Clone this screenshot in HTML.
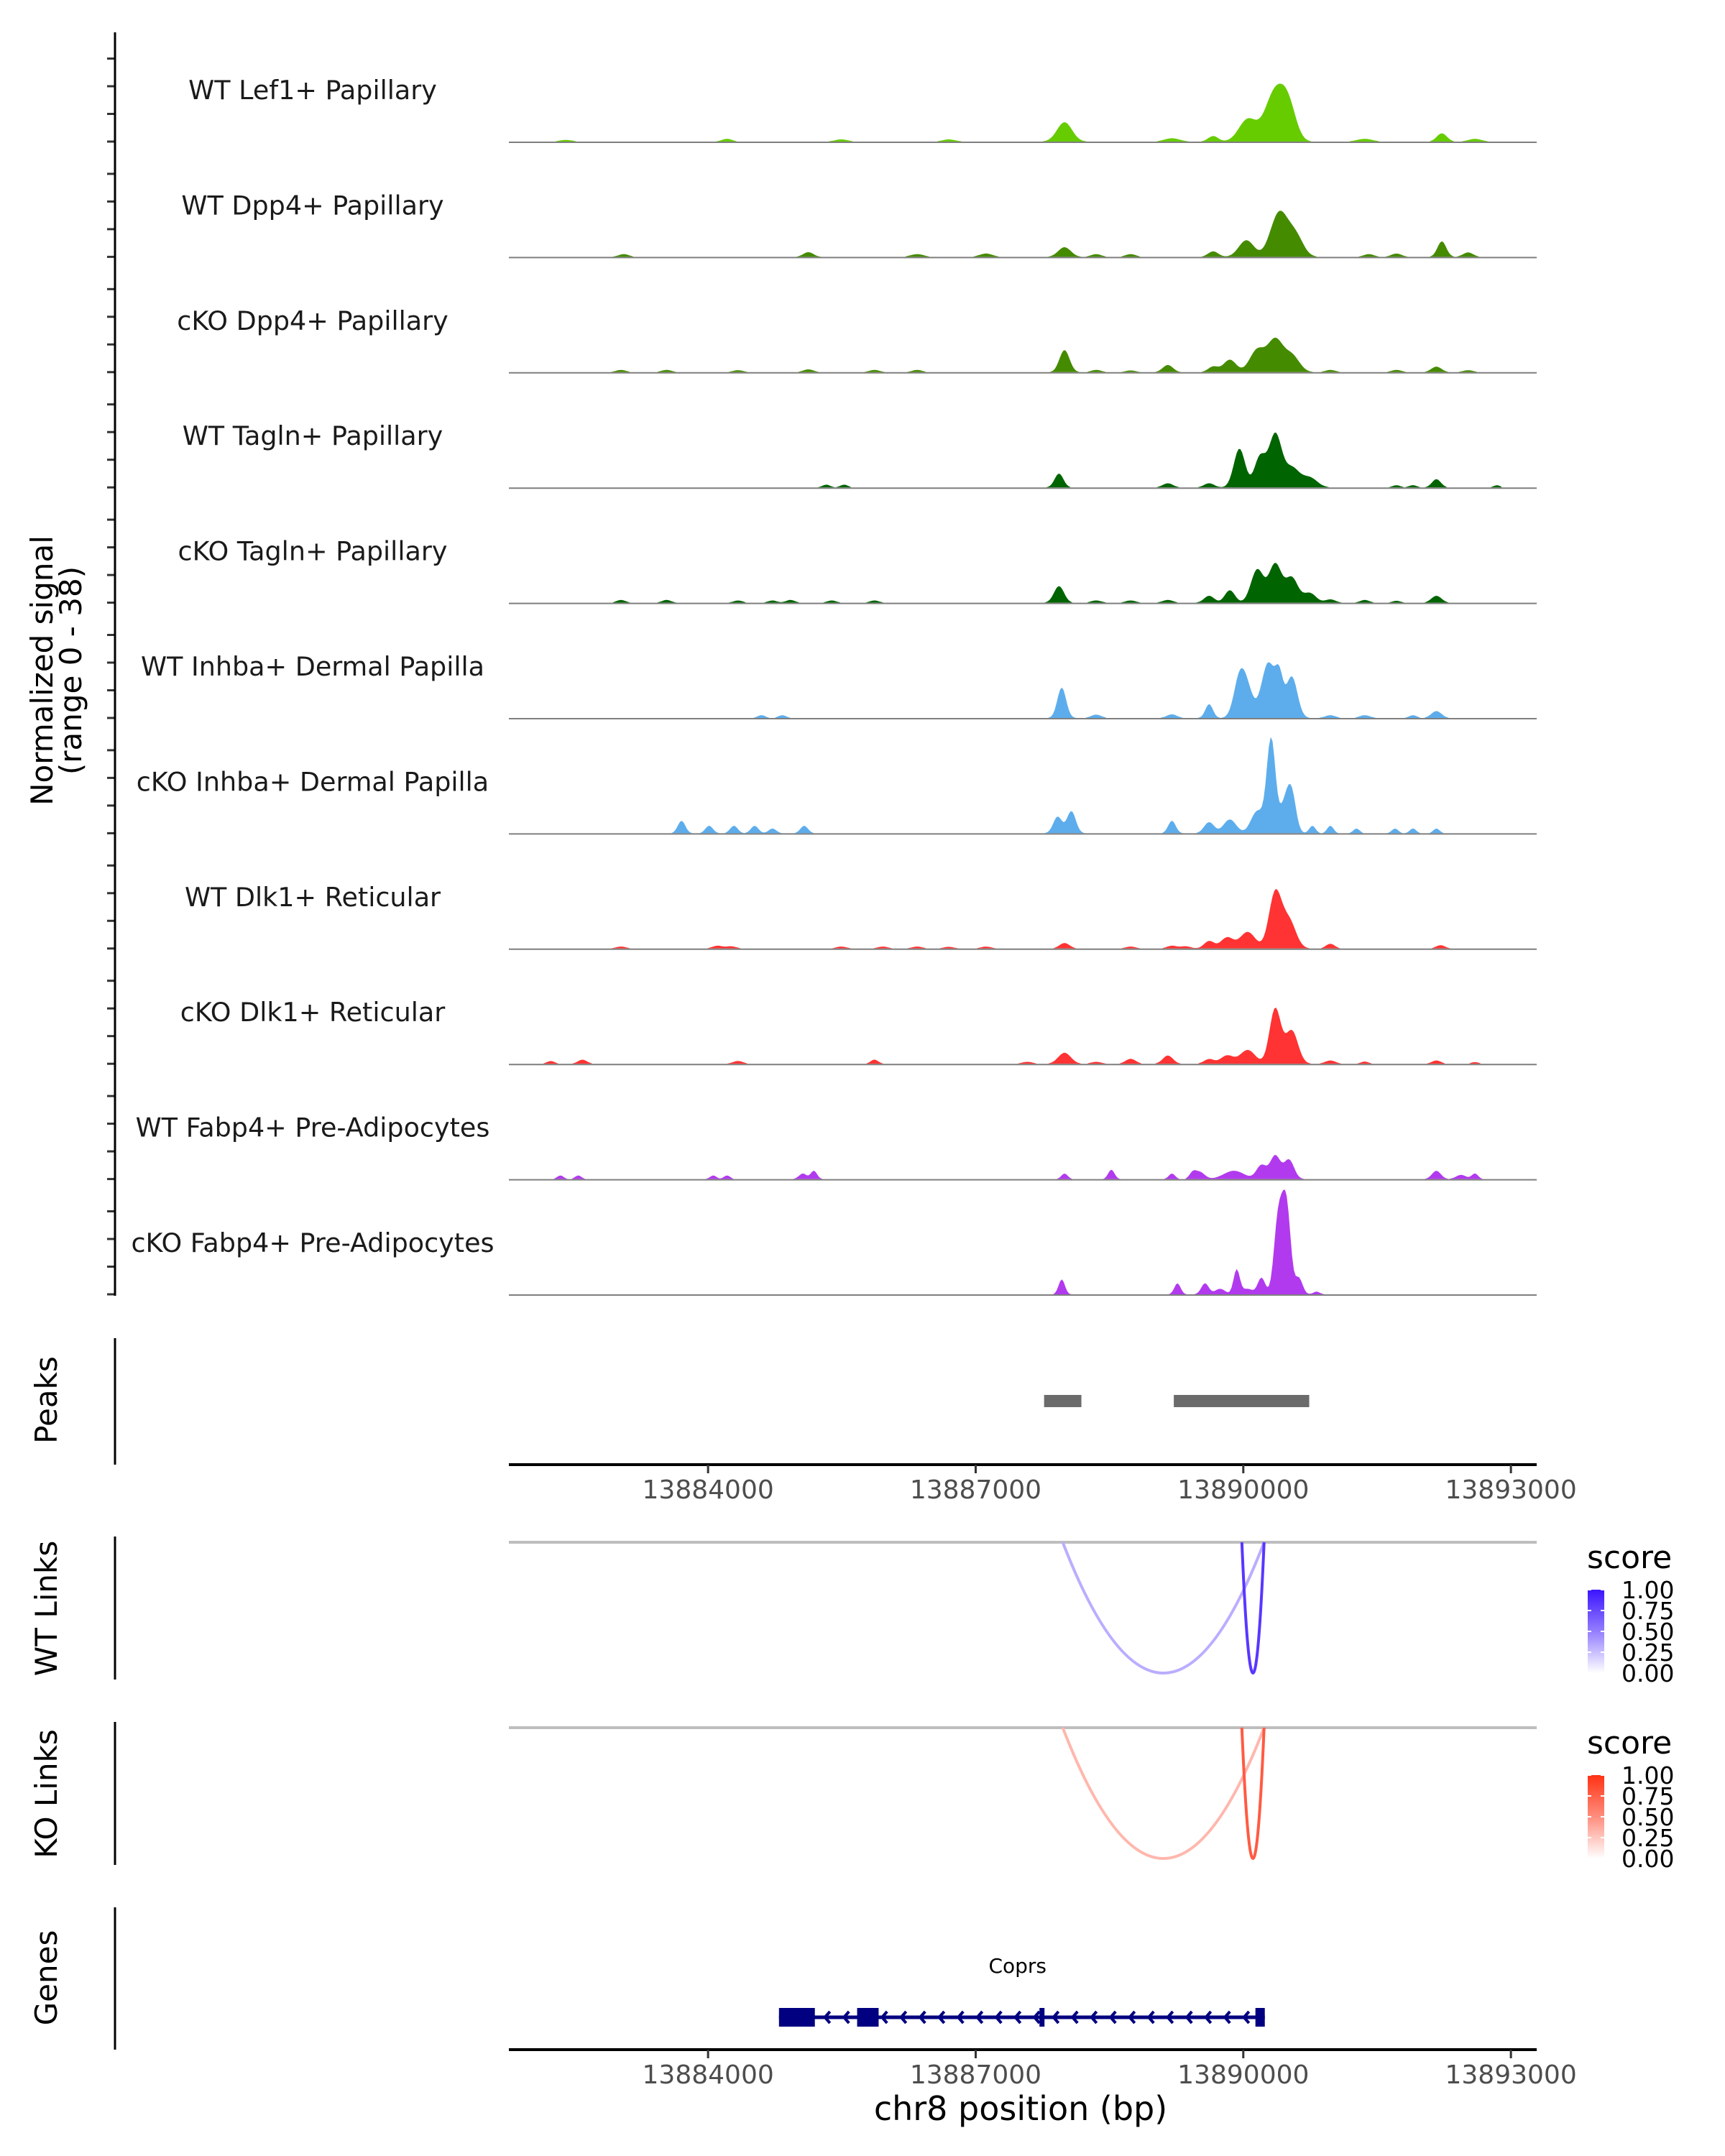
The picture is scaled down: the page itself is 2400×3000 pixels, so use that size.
<!DOCTYPE html>
<html><head><meta charset="utf-8">
<style>
html,body{margin:0;padding:0;background:#fff;}
svg{display:block;font-family:"DejaVu Sans","Liberation Sans",sans-serif;}
</style></head>
<body>
<svg id="chart" width="2400" height="3000" viewBox="0 0 2400 3000" xmlns="http://www.w3.org/2000/svg">
<rect x="0" y="0" width="2400" height="3000" fill="#fff"/>
<g id="tracks"></g>
<g id="peaks"></g>
<g id="links"></g>
<g id="genes"></g>
<g id="axes"></g>
</svg>
<script>
const NS = "http://www.w3.org/2000/svg";
// ---- data ----
const trackNames = ["WT Lef1+ Papillary","WT Dpp4+ Papillary","cKO Dpp4+ Papillary","WT Tagln+ Papillary","cKO Tagln+ Papillary","WT Inhba+ Dermal Papilla","cKO Inhba+ Dermal Papilla","WT Dlk1+ Reticular","cKO Dlk1+ Reticular","WT Fabp4+ Pre-Adipocytes","cKO Fabp4+ Pre-Adipocytes"];
const trackColors = ["#66CC00","#458B00","#458B00","#006400","#006400","#5DADEC","#5DADEC","#FF3333","#FF3333","#B23AEE","#B23AEE"];
const axisTicks = [13884000,13887000,13890000,13893000];
const axisTickLabels = ["13884000","13887000","13890000","13893000"];
const signalMax = 38;

const lef1Pos = [13887996,13890049,13890358,13890512,13892226,13884213,13885494,13886699,13889200,13889663,13891362,13892597,13882406];
const lef1Height = [7,8,18,10,3,1,0.8,0.8,1.2,2,1,1,0.6];
const lef1Width = [60,70,80,60,40,40,50,50,60,40,60,50,50];

const wtDpp4Pos = [13890404,13890034,13890590,13892226,13887996,13885124,13883055,13886344,13887116,13888351,13888737,13889663,13891717,13892520,13891408];
const wtDpp4Height = [16,6,7,5.6,3.5,1.7,1,1,1.2,1,1,2,1.2,1.6,1];
const wtDpp4Width = [70,60,60,35,50,40,40,50,50,40,40,40,40,40,40];

const koDpp4Pos = [13890358,13890157,13890543,13887996,13889154,13889849,13889663,13892165,13883024,13883534,13884336,13885124,13885865,13886344,13888351,13888737,13890976,13891717,13892520];
const koDpp4Height = [11.5,8,6,8,2.6,4.5,2,2,0.8,0.8,0.7,1,0.8,0.8,0.8,0.6,0.8,0.8,0.7];
const koDpp4Width = [60,60,60,40,40,50,40,40,40,40,40,40,40,40,40,40,40,40,40];

const wtTaglnPos = [13890358,13889957,13890188,13890543,13890744,13887934,13892165,13885325,13885525,13889154,13889617,13891717,13891902,13892844];
const wtTaglnHeight = [19,14,11,7,3.5,5,3,1,1,1.5,1.5,0.8,0.8,0.8];
const wtTaglnWidth = [50,45,45,60,60,35,35,30,30,40,40,30,30,25];

const koTaglnPos = [13890358,13890157,13890543,13890744,13889849,13889617,13892165,13887934,13883024,13883534,13884336,13884722,13884923,13885386,13885865,13888351,13888737,13889154,13890976,13891362,13891717];
const koTaglnHeight = [14,12,9,3.5,4.5,2.5,2.5,6,1,1,0.8,0.8,1,0.8,0.8,0.8,0.8,1,1.2,1,0.7];
const koTaglnWidth = [50,50,50,50,40,40,40,40,35,35,35,35,35,35,35,40,40,40,40,35,30];

const wtInhbaPos = [13890281,13890404,13890543,13889957,13890049,13887965,13889617,13889200,13892165,13884599,13884831,13890976,13891362,13891902,13888351];
const wtInhbaHeight = [20,12,15,14,9,11,5,1.3,2.5,1,1,1,1,1,1.2];
const wtInhbaWidth = [55,30,45,45,45,35,30,40,40,30,30,40,40,30,40];

const koInhbaPos = [13890312,13890466,13890543,13890157,13889849,13889617,13889200,13888073,13887919,13883703,13884012,13884290,13884522,13884722,13885078,13890775,13890976,13891269,13891701,13891902,13892165];
const koInhbaHeight = [34,10,13,8,5,4,4.5,8,6,4.5,2.7,2.7,2.7,1.7,2.7,2.7,2.7,1.7,1.7,1.7,1.7];
const koInhbaWidth = [35,40,35,50,50,40,30,35,35,30,30,30,30,30,30,25,25,25,25,25,25];

const wtDlk1Pos = [13890358,13890512,13890049,13889818,13889617,13887996,13890976,13892211,13883024,13884105,13884259,13885494,13885958,13886344,13886699,13887116,13888737,13889200,13889354];
const wtDlk1Height = [20,10,6,4,2.7,2,1.7,1.2,0.7,1,0.8,0.7,0.7,0.7,0.6,0.7,0.7,1,0.8];
const wtDlk1Width = [50,55,60,50,40,40,35,35,40,40,40,40,40,40,40,40,40,40,40];

const koDlk1Pos = [13890358,13890543,13890049,13889818,13887996,13889154,13888737,13889617,13882237,13882592,13884336,13885865,13890976,13891362,13892165,13892597,13887579,13888351];
const koDlk1Height = [20,12,5,3,4,3,1.8,1.7,1,1.5,1,1.5,1.2,0.8,1.2,0.6,0.7,0.7];
const koDlk1Width = [45,50,60,50,50,40,40,40,30,35,40,30,40,30,35,30,40,40];

const wtFabp4Pos = [13890358,13890512,13890204,13889895,13889509,13888521,13887996,13889200,13889432,13885062,13885186,13882345,13882545,13884059,13884213,13892165,13892442,13892597];
const wtFabp4Height = [8.5,7,5,3,2.6,3.4,2,2,2,2,3,1.3,1.3,1.3,1.3,3,1.5,2];
const wtFabp4Width = [40,40,40,80,40,25,25,25,25,30,25,25,25,25,25,35,40,25];

const koFabp4Pos = [13890435,13890497,13890374,13889926,13890621,13890204,13889571,13889262,13887965,13890821,13889740,13890049];
const koFabp4Height = [24,22,16,9,6,6,4,4,5.4,1,2,2];
const koFabp4Width = [35,30,30,25,30,30,30,25,25,25,40,40];

const trackPos = [lef1Pos,wtDpp4Pos,koDpp4Pos,wtTaglnPos,koTaglnPos,wtInhbaPos,koInhbaPos,wtDlk1Pos,koDlk1Pos,wtFabp4Pos,koFabp4Pos];
const trackHeight = [lef1Height,wtDpp4Height,koDpp4Height,wtTaglnHeight,koTaglnHeight,wtInhbaHeight,koInhbaHeight,wtDlk1Height,koDlk1Height,wtFabp4Height,koFabp4Height];
const trackWidth = [lef1Width,wtDpp4Width,koDpp4Width,wtTaglnWidth,koTaglnWidth,wtInhbaWidth,koInhbaWidth,wtDlk1Width,koDlk1Width,wtFabp4Width,koFabp4Width];

const peakStarts = [13887767,13889221];
const peakEnds = [13888185,13890739];

const wtLinkStarts = [13887976,13889984];
const wtLinkEnds = [13890233,13890233];
const wtLinkScores = [0.35,0.85];
const koLinkStarts = [13887976,13889984];
const koLinkEnds = [13890233,13890233];
const koLinkScores = [0.35,0.8];

const geneName = "Coprs";
const geneStart = 13884795;
const geneEnd = 13890241;
const exonStarts = [13884795,13885671,13887715,13890136];
const exonEnds = [13885197,13885912,13887770,13890241];
const legendTicks = [0,0.25,0.5,0.75,1];
const legendLabels = ["0.00","0.25","0.50","0.75","1.00"];

// ---- scales ----
const X0 = 708, X1 = 2138, D0 = 13881767, D1 = 13893289;
function xs(bp){ return X0 + (bp - D0) / (D1 - D0) * (X1 - X0); }
const BASE0 = 197, TRACK_STEP = 160.4, UNIT = 3.85;
function ys(i, v){ return BASE0 + i * TRACK_STEP - Math.min(v, signalMax) * UNIT; }
const SMOOTH = 1.4;

function mk(tag, attrs, parent){
  const e = document.createElementNS(NS, tag);
  for (const k in attrs) e.setAttribute(k, attrs[k]);
  parent.appendChild(e);
  return e;
}
function txt(str, attrs, parent){
  const e = mk("text", attrs, parent);
  e.textContent = str;
  return e;
}

// ---- signal tracks ----
const gT = document.getElementById("tracks");
const gA = document.getElementById("axes");
for (let i = 0; i < trackNames.length; i++){
  const g = mk("g", {}, gT);
  
  
  let d = "M" + xs(D0).toFixed(1) + "," + ys(i,0).toFixed(1);
  for (let bp = D0; bp <= 13892900; bp += 20){
    let v = 0;
    const P = trackPos[i], H = trackHeight[i], W = trackWidth[i];
    for (let k = 0; k < P.length; k++){
      const z = (bp - P[k]) / (W[k] * SMOOTH);
      if (Math.abs(z) < 4) v += H[k] * Math.exp(-0.5 * z * z);
    }
    if (v < 0.15) v = 0;
    d += "L" + xs(bp).toFixed(1) + "," + ys(i, v).toFixed(1);
  }
  d += "L" + xs(13892900).toFixed(1) + "," + ys(i,0).toFixed(1) + "Z";
  const area = mk("path", {d: d, fill: trackColors[i], stroke: "none"}, g);
  
  
  const bl = mk("line", {x1: X0, x2: X1, y1: ys(i,0)+1, y2: ys(i,0)+1, stroke: "#7f7f7f", "stroke-width": 2}, g);
  
  
  const lab = txt(trackNames[i], {x: 435, y: ys(i,0) - 59, "font-size": 36.5, fill: "#1a1a1a", "text-anchor": "middle"}, g);
  
  
  for (let k = 0; k < 4; k++){
    const t = mk("line", {x1: 149, x2: 161, y1: ys(i, k*10), y2: ys(i, k*10), stroke: "#333", "stroke-width": 3}, gA);
    
    
  }
}
function vline(x, y1, y2, name){
  const l = mk("line", {x1: x, x2: x, y1: y1, y2: y2, stroke: "#000", "stroke-width": 3}, gA);
  
  
}
vline(160, 45, 1803, 'signal-y-axis');
vline(160, 1862, 2038, 'peaks-y-axis');
vline(160, 2138, 2337, 'wt-links-y-axis');
vline(160, 2396, 2595, 'ko-links-y-axis');
vline(160, 2654, 2852, 'genes-y-axis');

function vtitle(lines, cx, cy, name){
  const t = mk("text", {transform: "translate(" + cx + "," + cy + ") rotate(-90)", "font-size": 42, fill: "#000", "text-anchor": "middle"}, gA);
  
  
  lines.forEach((s, j) => {
    const ts = document.createElementNS(NS, "tspan");
    ts.setAttribute("x", 0);
    ts.setAttribute("y", (j - (lines.length - 1) / 2) * 40 + 15);
    ts.textContent = s;
    t.appendChild(ts);
  });
}
vtitle(["Normalized signal","(range 0 - 38)"], 78, 933, 'signal-y-title');
vtitle(["Peaks"], 64, 1948, 'peaks-y-title');
vtitle(["WT Links"], 64, 2238, 'wt-links-y-title');
vtitle(["KO Links"], 64, 2496, 'ko-links-y-title');
vtitle(["Genes"], 64, 2752, 'genes-y-title');

// ---- x axes ----
function xaxis(y, name){
  const g = mk("g", {}, gA);
  
  
  mk("line", {x1: X0, x2: X1, y1: y, y2: y, stroke: "#000", "stroke-width": 4}, g);
  for (let k = 0; k < axisTicks.length; k++){
    const x = xs(axisTicks[k]);
    mk("line", {x1: x, x2: x, y1: y, y2: y + 12, stroke: "#333", "stroke-width": 3}, g);
    const t = txt(axisTickLabels[k], {x: x, y: y + 47, "font-size": 36, fill: "#4d4d4d", "text-anchor": "middle"}, g);
    
    
  }
}
xaxis(2038, 'peaks-x-axis');
xaxis(2852, 'genes-x-axis');
const xt = txt("chr8 position (bp)", {x: 1420, y: 2950, "font-size": 46, fill: "#000", "text-anchor": "middle"}, gA);



// ---- peaks ----
const gP = document.getElementById("peaks");
for (let k = 0; k < peakStarts.length; k++){
  const r = mk("rect", {x: xs(peakStarts[k]), y: 1941, width: xs(peakEnds[k]) - xs(peakStarts[k]), height: 17, fill: "#6b6b6b"}, gP);
  
  
}

// ---- links ----
const gL = document.getElementById("links");
function mix(c, s){
  const r = Math.round(255 + (c[0]-255)*s), g = Math.round(255 + (c[1]-255)*s), b = Math.round(255 + (c[2]-255)*s);
  return "rgb(" + r + "," + g + "," + b + ")";
}
function linkPanel(y0, starts, ends, scores, col, gradId, name){
  const g = mk("g", {}, gL);
  
  
  const gl = mk("line", {x1: X0, x2: X1, y1: y0, y2: y0, stroke: "#bebebe", "stroke-width": 4}, g);
  
  
  const depth = 182;
  const order = scores.map((s,i)=>i).sort((a,b)=>scores[a]-scores[b]);
  order.forEach(k => {
    const a = xs(starts[k]), b = xs(ends[k]);
    const c = y0 + depth * 2;
    const p = mk("path", {d: "M" + a + "," + y0 + " Q" + ((a + b) / 2) + "," + c + " " + b + "," + y0, fill: "none", stroke: mix(col, scores[k]), "stroke-width": 4}, g);
    
    
  });
  // legend
  const lg = mk("g", {}, g);
  
  
  txt("score", {x: 2208, y: y0 + 36, "font-size": 44, fill: "#000"}, lg);
  const defs = mk("defs", {}, lg);
  const gr = mk("linearGradient", {id: gradId, x1: 0, y1: 1, x2: 0, y2: 0}, defs);
  mk("stop", {offset: 0, "stop-color": "#ffffff"}, gr);
  mk("stop", {offset: 0.5, "stop-color": mix(col, 0.55)}, gr);
  mk("stop", {offset: 1, "stop-color": mix(col, 1)}, gr);
  const top = y0 + 66, bot = y0 + 182;
  const bar = mk("rect", {x: 2209, y: top, width: 23, height: bot - top, fill: "url(#" + gradId + ")"}, lg);
  
  
  for (let k = 0; k < legendTicks.length; k++){
    const yy = bot - legendTicks[k] * (bot - top);
    mk("line", {x1: 2209, x2: 2214, y1: yy, y2: yy, stroke: "#fff", "stroke-width": 2}, lg);
    mk("line", {x1: 2227, x2: 2232, y1: yy, y2: yy, stroke: "#fff", "stroke-width": 2}, lg);
    txt(legendLabels[k], {x: 2256, y: yy + 12, "font-size": 33, fill: "#000"}, lg);
  }
}
linkPanel(2146, wtLinkStarts, wtLinkEnds, wtLinkScores, [60, 20, 255], "gradWT", 'wt-links-panel');
linkPanel(2404, koLinkStarts, koLinkEnds, koLinkScores, [255, 50, 20], "gradKO", 'ko-links-panel');

// ---- gene ----
const gG = document.getElementById("genes");
const gy = 2807;
const gname = txt(geneName, {x: (xs(geneStart) + xs(geneEnd)) / 2 - 6, y: 2745, "font-size": 28, fill: "#000", "text-anchor": "middle"}, gG);


const gline = mk("line", {x1: xs(geneStart), x2: xs(geneEnd), y1: gy, y2: gy, stroke: "#000080", "stroke-width": 5}, gG);


for (let x = xs(exonEnds[0]) + 14; x < xs(geneEnd) - 12; x += 26.5){
  const ch = mk("polyline", {points: (x+7) + "," + (gy-8) + " " + x + "," + gy + " " + (x+7) + "," + (gy+8), fill: "none", stroke: "#000080", "stroke-width": 4}, gG);
  
  
}
for (let k = 0; k < exonStarts.length; k++){
  const r = mk("rect", {x: xs(exonStarts[k]), y: 2794, width: Math.max(7, xs(exonEnds[k]) - xs(exonStarts[k])), height: 26, fill: "#000080"}, gG);
  
  
}
</script>
</body></html>
